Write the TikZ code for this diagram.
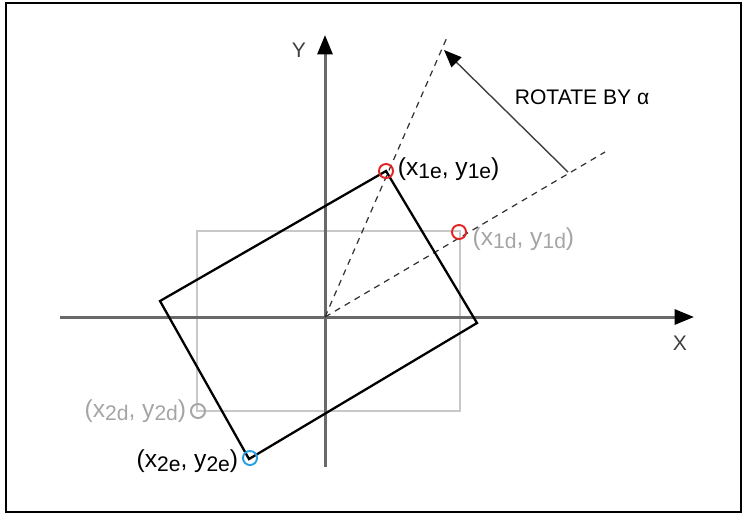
\documentclass[tikz,border=0pt]{standalone}
\usepackage{fontspec}
\setmainfont{Liberation Sans}
\usetikzlibrary{arrows.meta,positioning}
\definecolor{axisgray}{RGB}{105,105,105}
\definecolor{boxgray}{RGB}{200,200,200}
\definecolor{labelgray}{RGB}{165,165,165}
\definecolor{markred}{RGB}{228,36,36}
\definecolor{markblue}{RGB}{38,160,226}
\newcommand{\cornerlab}[1]{(x\raisebox{-1.8pt}{\fontsize{12}{14}\selectfont #1}, y\raisebox{-1.8pt}{\fontsize{12}{14}\selectfont #1})}
\tikzset{
    axis/.style={draw=axisgray,line width=1.7pt,-{Triangle[length=11pt,width=8.5pt,color=black]}},
    guide/.style={draw=black!80,line width=.7pt,dash pattern=on 3.5pt off 3pt},
    ringmark/.style={circle,draw=#1,line width=1.1pt,minimum size=8pt,inner sep=0pt},
    lab/.style={inner sep=0pt,font=\fontsize{14}{16}\selectfont}
}
\begin{document}
\begin{tikzpicture}[x=.02cm,y=-.02cm]
    \useasboundingbox (0,0) rectangle (742,515);
    \draw[line width=1.2pt] (6,3) rectangle (741,512);
    % before rotation
    \draw[boxgray,line width=1pt] (197,231) rectangle (460,411);
    % axes
    \coordinate (o) at (325,317);
    \draw[axis] (325,467)--(325,35);
    \draw[axis] (60,317)--(694,317);
    \node[lab,font=\fontsize{12}{14}\selectfont,text=black!75] (ylab) at (299,50) {Y};
    \node[lab,font=\fontsize{12}{14}\selectfont,text=black!75] (xlab) at (680,343) {X};
    % rays through the corners
    \coordinate (rayd) at (605,152);
    \coordinate (raye) at (448,35);
    \draw[guide] (o)--(rayd);
    \draw[guide] (o)--(raye);
    % after rotation
    \coordinate (c1e) at (386,171);
    \coordinate (cl) at (160,301);
    \coordinate (c2e) at (249,459);
    \coordinate (cr) at (477,323);
    \draw[line width=1.3pt,line join=miter] (c1e)--(cl)--(c2e)--(cr)--cycle;
    \coordinate (rotfrom) at (568,172);
    \coordinate (rotto) at (444,50);
    \draw[black!75,line width=.8pt,-{Triangle[length=10pt,width=8pt,color=black]}] (rotfrom)--(rotto);
    \node[lab,font=\fontsize{12}{14}\selectfont] (rotlab) at (582,97) {ROTATE BY α};
    % corner points
    \node[ringmark=markred] (m1e) at (386,171) {};
    \node[ringmark=markred] (m1d) at (459,232) {};
    \node[ringmark=labelgray] (m2d) at (198,411) {};
    \node[ringmark=markblue] (m2e) at (250,458) {};
    \node[lab,right=2pt of m1e,yshift=1pt] (l1e) {\cornerlab{1e}};
    \node[lab,text=labelgray,right=3pt of m1d,yshift=-4pt] (l1d) {\cornerlab{1d}};
    \node[lab,text=labelgray,left=2pt of m2d] (l2d) {\cornerlab{2d}};
    \node[lab,left=2pt of m2e,yshift=-2pt] (l2e) {\cornerlab{2e}};
\end{tikzpicture}
\end{document}
